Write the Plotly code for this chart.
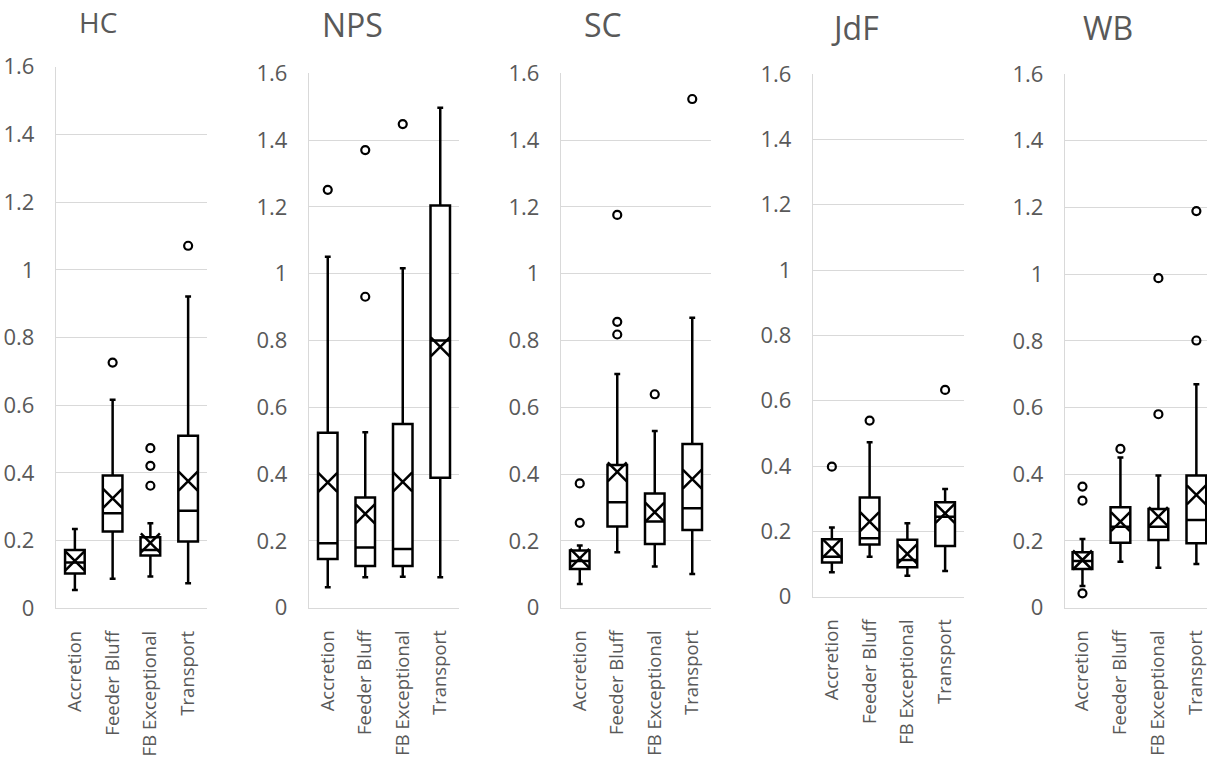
import plotly.graph_objects as go

categories = ["Accretion", "Feeder Bluff", "FB Exceptional", "Transport"]
sites = ["HC", "NPS", "SC", "JdF", "WB"]

hc_lower = [0.054, 0.087, 0.094, 0.074]
hc_q1 = [0.103, 0.227, 0.156, 0.197]
hc_median = [0.135, 0.281, 0.172, 0.288]
hc_q3 = [0.172, 0.392, 0.210, 0.510]
hc_upper = [0.234, 0.616, 0.251, 0.921]
hc_mean = [0.140, 0.325, 0.193, 0.376]
hc_outliers = [[], [0.726], [0.473, 0.421, 0.362], [1.071]]

nps_lower = [0.061, 0.091, 0.093, 0.091]
nps_q1 = [0.146, 0.125, 0.125, 0.389]
nps_median = [0.193, 0.180, 0.176, 0.800]
nps_q3 = [0.524, 0.330, 0.550, 1.204]
nps_upper = [1.051, 0.525, 1.016, 1.497]
nps_mean = [0.375, 0.281, 0.377, 0.781]
nps_outliers = [[1.251], [1.370, 0.931], [1.448], []]

sc_lower = [0.071, 0.166, 0.123, 0.101]
sc_q1 = [0.116, 0.243, 0.191, 0.233]
sc_median = [0.140, 0.316, 0.258, 0.298]
sc_q3 = [0.171, 0.427, 0.342, 0.490]
sc_upper = [0.186, 0.700, 0.529, 0.868]
sc_mean = [0.148, 0.407, 0.286, 0.385]
sc_outliers = [[0.372, 0.254], [1.176, 0.856, 0.818], [0.639], [1.523]]

jdf_lower = [0.075, 0.122, 0.064, 0.079]
jdf_q1 = [0.105, 0.160, 0.090, 0.155]
jdf_median = [0.122, 0.179, 0.112, 0.245]
jdf_q3 = [0.176, 0.304, 0.174, 0.289]
jdf_upper = [0.212, 0.473, 0.225, 0.330]
jdf_mean = [0.148, 0.230, 0.131, 0.255]
jdf_outliers = [[0.398], [0.539], [], [0.633]]

wb_lower = [0.065, 0.138, 0.120, 0.131]
wb_q1 = [0.116, 0.195, 0.203, 0.193]
wb_median = [0.140, 0.243, 0.243, 0.263]
wb_q3 = [0.166, 0.301, 0.296, 0.396]
wb_upper = [0.206, 0.450, 0.396, 0.670]
wb_mean = [0.143, 0.258, 0.273, 0.338]
wb_outliers = [[0.363, 0.321, 0.043], [0.476], [0.988, 0.580], [1.189, 0.801]]

data = [
    (hc_lower, hc_q1, hc_median, hc_q3, hc_upper, hc_mean, hc_outliers),
    (nps_lower, nps_q1, nps_median, nps_q3, nps_upper, nps_mean, nps_outliers),
    (sc_lower, sc_q1, sc_median, sc_q3, sc_upper, sc_mean, sc_outliers),
    (jdf_lower, jdf_q1, jdf_median, jdf_q3, jdf_upper, jdf_mean, jdf_outliers),
    (wb_lower, wb_q1, wb_median, wb_q3, wb_upper, wb_mean, wb_outliers),
]

W, H = 1207, 759
# pixel layout per panel: (left, right, top, bottom, xrange, title_x, title_y, title_size)
panels = [
    (56, 207, 66.7, 608.3, [-0.5, 3.5], 98, 22, 28),
    (309, 459, 73.3, 607.7, [-0.5, 3.5], 352, 25, 32),
    (561, 711, 73.3, 607.7, [-0.5, 3.5], 603, 25, 32),
    (813, 964, 74, 596.7, [-0.5, 3.5], 855, 27, 32),
    (1065, 1207, 74, 607.7, [-0.46, 3.28], 1108, 28, 32),
]

FONT = "Open Sans"
GRAY = "#595959"
GRID = "#d9d9d9"

fig = go.Figure()
layout = {}
for i, (site, d, p) in enumerate(zip(sites, data, panels)):
    lower, q1, med, q3, upper, mean, outl = d
    left, right, top, bottom, xr, tx, ty, ts = p
    sfx = "" if i == 0 else str(i + 1)
    xa, ya = "x" + sfx, "y" + sfx
    fig.add_trace(go.Box(
        x=categories, q1=q1, median=med, q3=q3, lowerfence=lower, upperfence=upper,
        fillcolor="white", line=dict(color="black", width=2.5), width=0.52,
        whiskerwidth=0.3, boxpoints=False, xaxis=xa, yaxis=ya, showlegend=False,
        hoverinfo="skip"))
    fig.add_trace(go.Scatter(
        x=categories, y=mean, mode="markers", xaxis=xa, yaxis=ya, showlegend=False,
        hoverinfo="skip",
        marker=dict(symbol="x-thin-open", size=19, color="black",
                    line=dict(color="black", width=2.5))))
    ox, oy = [], []
    for c, vals in zip(categories, outl):
        for v in vals:
            ox.append(c)
            oy.append(v)
    fig.add_trace(go.Scatter(
        x=ox, y=oy, mode="markers", xaxis=xa, yaxis=ya, showlegend=False,
        hoverinfo="skip",
        marker=dict(symbol="circle-open", size=8, color="black",
                    line=dict(color="black", width=2.2))))
    layout["xaxis" + sfx] = dict(
        domain=[left / W, right / W], anchor=ya, type="category",
        categoryorder="array", categoryarray=categories, range=xr,
        showgrid=False, showline=True, linecolor=GRID, linewidth=1.3,
        tickangle=-90, ticks="", ticklabelstandoff=14, automargin=False,
        ticklabeloverflow="allow",
        tickfont=dict(family=FONT, size=18.5, color=GRAY), zeroline=False)
    layout["yaxis" + sfx] = dict(
        domain=[1 - bottom / H, 1 - top / H], anchor=xa, range=[0, 1.6],
        dtick=0.2, tick0=0, showgrid=True, gridcolor=GRID, gridwidth=1.3,
        showline=True, linecolor=GRID, linewidth=1.3, zeroline=False,
        ticks="", ticklabelstandoff=16, automargin=False,
        tickfont=dict(family=FONT, size=22, color=GRAY))
    fig.add_annotation(text=site, x=tx / W, y=1 - ty / H, xref="paper", yref="paper",
                       showarrow=False, xanchor="center", yanchor="middle",
                       font=dict(family=FONT, size=ts, color=GRAY))

fig.update_layout(
    width=W, height=H, margin=dict(l=0, r=0, t=0, b=0, autoexpand=False),
    paper_bgcolor="white", plot_bgcolor="white", showlegend=False,
    hovermode=False, **layout)

fig.write_html("out.html", config={"displayModeBar": False},
               post_script="document.body.style.margin='0';document.body.style.overflow='hidden';")
